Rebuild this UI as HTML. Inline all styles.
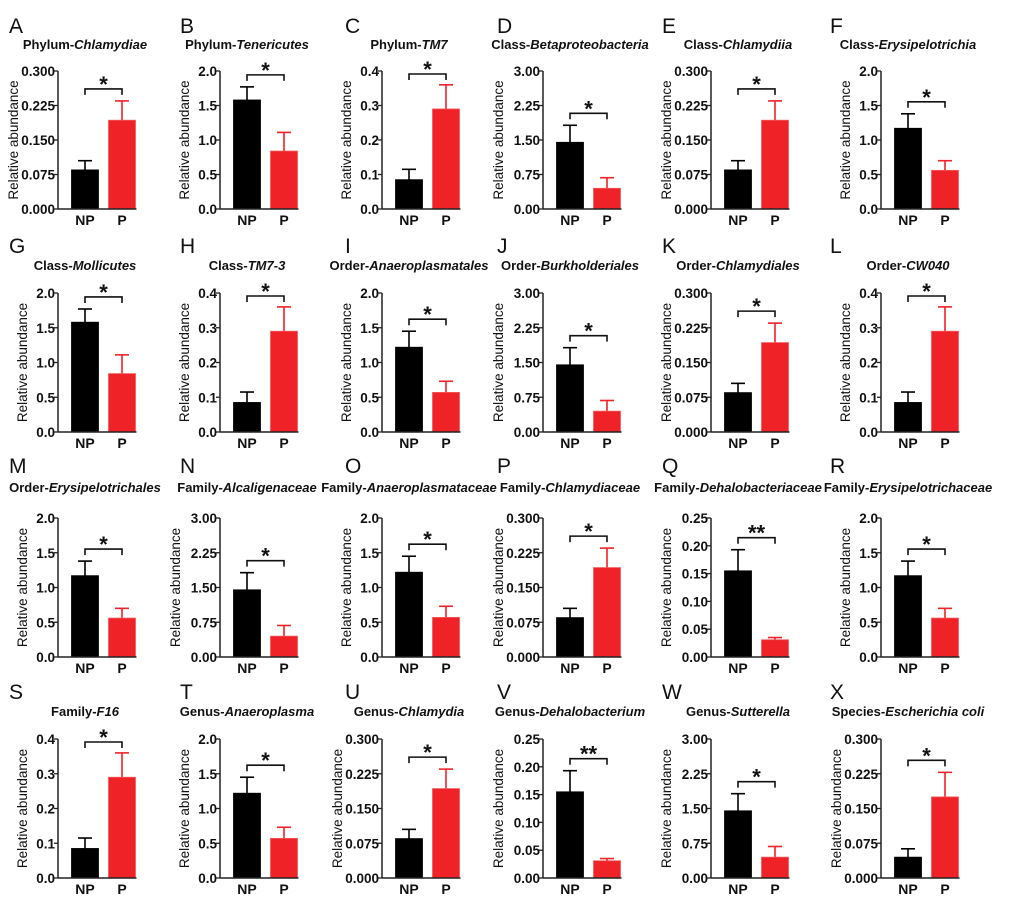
<!DOCTYPE html>
<html><head><meta charset="utf-8"><style>
html,body{margin:0;padding:0;background:#fff;}
svg{display:block;font-family:"Liberation Sans",Arial,sans-serif;}
</style></head><body>
<svg id="fig" width="1020" height="906" viewBox="0 0 1020 906"></svg>
<script>
const panelLetters = ["A","B","C","D","E","F","G","H","I","J","K","L","M","N","O","P","Q","R","S","T","U","V","W","X"];
const rankNames = ["Phylum","Phylum","Phylum","Class","Class","Class","Class","Class","Order","Order","Order","Order","Order","Family","Family","Family","Family","Family","Family","Genus","Genus","Genus","Genus","Species"];
const taxonNames = ["Chlamydiae","Tenericutes","TM7","Betaproteobacteria","Chlamydiia","Erysipelotrichia","Mollicutes","TM7-3","Anaeroplasmatales","Burkholderiales","Chlamydiales","CW040","Erysipelotrichales","Alcaligenaceae","Anaeroplasmataceae","Chlamydiaceae","Dehalobacteriaceae","Erysipelotrichaceae","F16","Anaeroplasma","Chlamydia","Dehalobacterium","Sutterella","Escherichia coli"];
const npMeans = [0.085,1.58,0.085,1.45,0.085,1.17,1.58,0.085,1.22,1.45,0.085,0.085,1.17,1.45,1.22,0.085,0.155,1.17,0.085,1.22,0.085,0.155,1.45,0.045];
const npErrTop = [0.105,1.77,0.115,1.82,0.105,1.38,1.77,0.115,1.45,1.82,0.105,0.115,1.38,1.82,1.45,0.105,0.193,1.38,0.115,1.45,0.105,0.193,1.82,0.063];
const pMeans = [0.193,0.84,0.29,0.45,0.193,0.56,0.84,0.29,0.57,0.45,0.193,0.29,0.56,0.45,0.57,0.193,0.031,0.56,0.29,0.57,0.193,0.031,0.45,0.175];
const pErrTop = [0.235,1.11,0.36,0.68,0.235,0.70,1.11,0.36,0.73,0.68,0.235,0.36,0.70,0.68,0.73,0.235,0.035,0.70,0.36,0.73,0.235,0.035,0.68,0.228];
const axisMax = [0.3,2,0.4,3,0.3,2,2,0.4,2,3,0.3,0.4,2,3,2,0.3,0.25,2,0.4,2,0.3,0.25,3,0.3];
const tickStep = [0.075,0.5,0.1,0.75,0.075,0.5,0.5,0.1,0.5,0.75,0.075,0.1,0.5,0.75,0.5,0.075,0.05,0.5,0.1,0.5,0.075,0.05,0.75,0.075];
const tickDecimals = [3,1,1,2,3,1,1,1,1,2,3,1,1,2,1,3,2,1,1,1,3,2,2,3];
const sigMarks = ["*","*","*","*","*","*","*","*","*","*","*","*","*","*","*","*","**","*","*","*","*","**","*","*"];
const groupLabels = ["NP","P"];

const NS="http://www.w3.org/2000/svg";
const svg=document.getElementById('fig');
const colNP=[85,247,409,570,738,908];
const colLetterX=[9,180,345,497,662,830];
const rowTop=[71,293,518,739], rowBot=[209,432,657,878];
const rowLetterY=[33,253,473,699], rowTitleY=[49,270,492,716];
const BW=27, GAP=37;
function mk(tag,attrs,parent){const e=document.createElementNS(NS,tag);for(const k in attrs)e.setAttribute(k,attrs[k]);(parent||svg).appendChild(e);return e;}

for(let i=0;i<24;i++){
  const r=Math.floor(i/6), c=i%6;
  const g=mk('g',{});
  
  
  const top=rowTop[r], bot=rowBot[r];
  const npC=colNP[c], pC=npC+GAP;
  const ax=npC-27;
  const y=v=>bot-(v/axisMax[i])*(bot-top);
  const L=mk('text',{x:colLetterX[c],y:rowLetterY[r],'font-size':21,fill:'#111'},g);
  L.textContent=panelLetters[i];
  
  
  const T=mk('text',{x:npC,y:rowTitleY[r],'font-size':13,'font-weight':'bold','text-anchor':'middle',fill:'#111'},g);
  
  
  const t1=mk('tspan',{},T);t1.textContent=rankNames[i]+'-';
  const t2=mk('tspan',{'font-style':'italic'},T);t2.textContent=taxonNames[i];
  const vals=[npMeans[i],pMeans[i]], errs=[npErrTop[i],pErrTop[i]], cs=[npC,pC];
  for(let k=0;k<2;k++){
    const col=k===0?'#000':'#ee2227';
    const eb=mk('g',{},g);
    
    
    mk('line',{x1:cs[k],x2:cs[k],y1:y(vals[k]),y2:y(errs[k]),stroke:col,'stroke-width':1.6},eb);
    mk('line',{x1:cs[k]-7,x2:cs[k]+7,y1:y(errs[k]),y2:y(errs[k]),stroke:col,'stroke-width':1.6},eb);
    const b=mk('rect',{x:cs[k]-BW/2,y:y(vals[k]),width:BW,height:bot-y(vals[k]),fill:col,stroke:k===0?'#000':'#f25a5a','stroke-width':0.8},g);
    
    
    const xl=mk('text',{x:cs[k],y:bot+16,'font-size':14,'font-weight':'bold','text-anchor':'middle',fill:'#111'},g);
    xl.textContent=groupLabels[k];
    
    
  }
  mk('line',{x1:ax,x2:ax,y1:top,y2:bot,stroke:'#222','stroke-width':1.5},g);
  mk('line',{x1:ax,x2:pC+BW/2+1,y1:bot,y2:bot,stroke:'#222','stroke-width':1.5},g);
  const n=Math.round(axisMax[i]/tickStep[i]);
  for(let k=0;k<=n;k++){
    const v=k*tickStep[i], yy=y(v);
    mk('line',{x1:ax-4,x2:ax,y1:yy,y2:yy,stroke:'#222','stroke-width':1.3},g);
    const tl=mk('text',{x:ax-3,y:yy+5,'font-size':13.5,'font-weight':'bold','text-anchor':'end',fill:'#111'},g);
    tl.textContent=v.toFixed(tickDecimals[i]);
    
    
  }
  const yOff=tickDecimals[i]===1?36:45;
  const yt=mk('text',{transform:`translate(${ax-yOff+5},${(top+bot)/2}) rotate(-90)`,'font-size':13.5,'text-anchor':'middle',fill:'#111'},g);
  yt.textContent='Relative abundance';
  
  
  let by=Math.min(y(errs[0]),y(errs[1]))-12;
  by=Math.max(by,top+3);
  const br=mk('path',{d:`M${npC},${by+6}V${by}H${pC}V${by+6}`,fill:'none',stroke:'#111','stroke-width':1.6},g);
  
  
  const st=mk('text',{x:(npC+pC)/2,y:by+3,'font-size':22,'font-weight':'bold','text-anchor':'middle',fill:'#111'},g);
  st.textContent=sigMarks[i];
  
  
}
</script>
</body></html>
